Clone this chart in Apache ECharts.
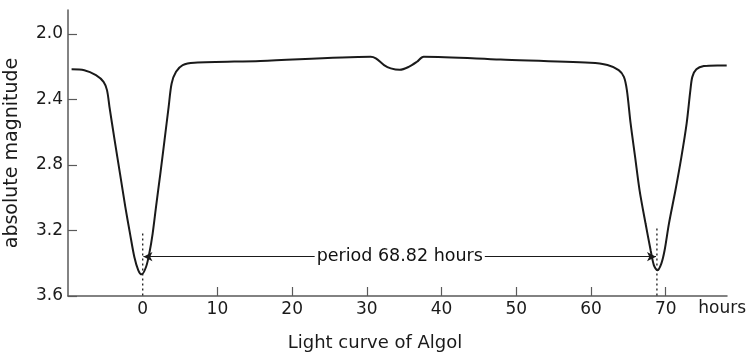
<!DOCTYPE html>
<html>
<head>
<meta charset="utf-8">
<script src="https://cdn.jsdelivr.net/npm/echarts@6/dist/echarts.min.js"></script>
<style>html,body{margin:0;padding:0;background:#fff}#c{width:750px;height:356px}</style>
</head>
<body>
<div id="c"></div>
<script>
// ---- data ----
const hours = [-9.52,-7.82,-6.26,-5.24,-4.78,-4.45,-3.76,-3.04,-2.33,-1.70,-1.12,-0.59,-0.14,0.44,0.88,1.33,1.78,2.36,2.92,3.47,3.87,4.46,5.35,6.91,15.75,30.5,31.2,32.3,33.2,34.4,35.6,36.7,37.6,47.9,59.9,62.2,63.7,64.4,64.8,65.3,65.9,66.5,67.3,67.98,68.42,68.88,69.41,69.85,70.43,71.3,72.1,72.8,73.3,73.56,74.1,75.1,76.9,78.16];
const magnitude = [2.217,2.222,2.252,2.293,2.344,2.446,2.649,2.853,3.056,3.219,3.362,3.443,3.468,3.423,3.341,3.219,3.056,2.853,2.649,2.446,2.303,2.232,2.191,2.177,2.166,2.140,2.150,2.191,2.211,2.220,2.202,2.171,2.140,2.157,2.177,2.191,2.222,2.263,2.344,2.547,2.751,2.955,3.158,3.321,3.413,3.443,3.402,3.321,3.158,2.955,2.751,2.547,2.344,2.263,2.217,2.197,2.193,2.193];
const minimaHours = [0, 68.82];
const minimaMarkTop = [3.219, 3.188];
const periodFrom = 0.1, periodTo = 68.7, periodMag = 3.36;
const periodLabel = 'period 68.82 hours';
const xTickLabels = [0, 10, 20, 30, 40, 50, 60, 70];
const xTickMarks = [10, 20, 30, 40, 50, 60, 70];
const yTickLabels = [2.0, 2.4, 2.8, 3.2, 3.6];
const xName = 'hours';
const yName = 'absolute magnitude';
const titleText = 'Light curve of Algol';

const font = 'DejaVu Sans';
const axisColor = '#5a5a5a';
const textColor = '#1a1a1a';

const curve = hours.map((h, i) => [h, magnitude[i]]);
const dotted = [];
minimaHours.forEach((h, i) => {
  dotted.push([h, minimaMarkTop[i]], [h, 3.6], null);
});
const labelPoint = [[(periodFrom + periodTo) / 2, periodMag]];

const chart = echarts.init(document.getElementById('c'), null, {renderer: 'canvas'});
chart.setOption({
  animation: false,
  backgroundColor: '#fff',
  title: {
    text: titleText, left: 'center', top: 334, padding: 0,
    textStyle: {fontFamily: font, fontSize: 18, fontWeight: 'normal', color: textColor}
  },
  grid: {left: 68, right: 23, top: 10, bottom: 60, containLabel: false, outerBoundsMode: 'none'},
  xAxis: {
    type: 'value', min: -10, max: 78.2,
    name: xName, nameLocation: 'end', nameGap: 19,
    nameTextStyle: {fontFamily: font, fontSize: 17, color: textColor, align: 'right', verticalAlign: 'top', padding: [4, 0, 0, 0]},
    axisLine: {show: true, onZero: false, lineStyle: {color: axisColor, width: 1.5}},
    axisTick: {show: true, inside: true, length: 9, customValues: xTickMarks, lineStyle: {color: axisColor, width: 1.2}},
    axisLabel: {customValues: xTickLabels, margin: 5, fontFamily: font, fontSize: 17, color: textColor},
    splitLine: {show: false}
  },
  yAxis: {
    type: 'value', inverse: true, min: 1.855, max: 3.6,
    name: yName, nameLocation: 'middle', nameGap: 46,
    nameTextStyle: {fontFamily: font, fontSize: 19, color: textColor},
    axisLine: {show: true, onZero: false, lineStyle: {color: axisColor, width: 1.5}},
    axisTick: {show: true, inside: true, length: 9, customValues: yTickLabels, lineStyle: {color: axisColor, width: 1.2}},
    axisLabel: {customValues: yTickLabels, margin: 5, fontFamily: font, fontSize: 17, color: textColor,
      formatter: v => v.toFixed(1)},
    splitLine: {show: false}
  },
  series: [
    {
      type: 'line', data: curve, smooth: 0.3, showSymbol: false,
      lineStyle: {color: '#1a1a1a', width: 2},
      z: 3,
      markLine: {
        silent: true, symbol: ['arrow', 'arrow'], symbolSize: [7, 9],
        lineStyle: {color: '#1a1a1a', width: 1.2, type: 'solid'},
        label: {show: false},
        data: [[{coord: [periodFrom, periodMag]}, {coord: [periodTo, periodMag]}]]
      }
    },
    {
      type: 'line', data: dotted, showSymbol: false, connectNulls: false,
      lineStyle: {color: '#1a1a1a', width: 1.3, type: [2, 3]}, z: 2
    },
    {
      type: 'scatter', data: labelPoint, symbolSize: 0, z: 10, silent: true,
      itemStyle: {opacity: 1, color: '#fff'},
      label: {show: true, position: 'inside', formatter: periodLabel, fontFamily: font, fontSize: 17.5,
        color: '#111', opacity: 1, backgroundColor: '#fff', padding: [1, 2]}
    }
  ]
});
</script>
</body>
</html>
